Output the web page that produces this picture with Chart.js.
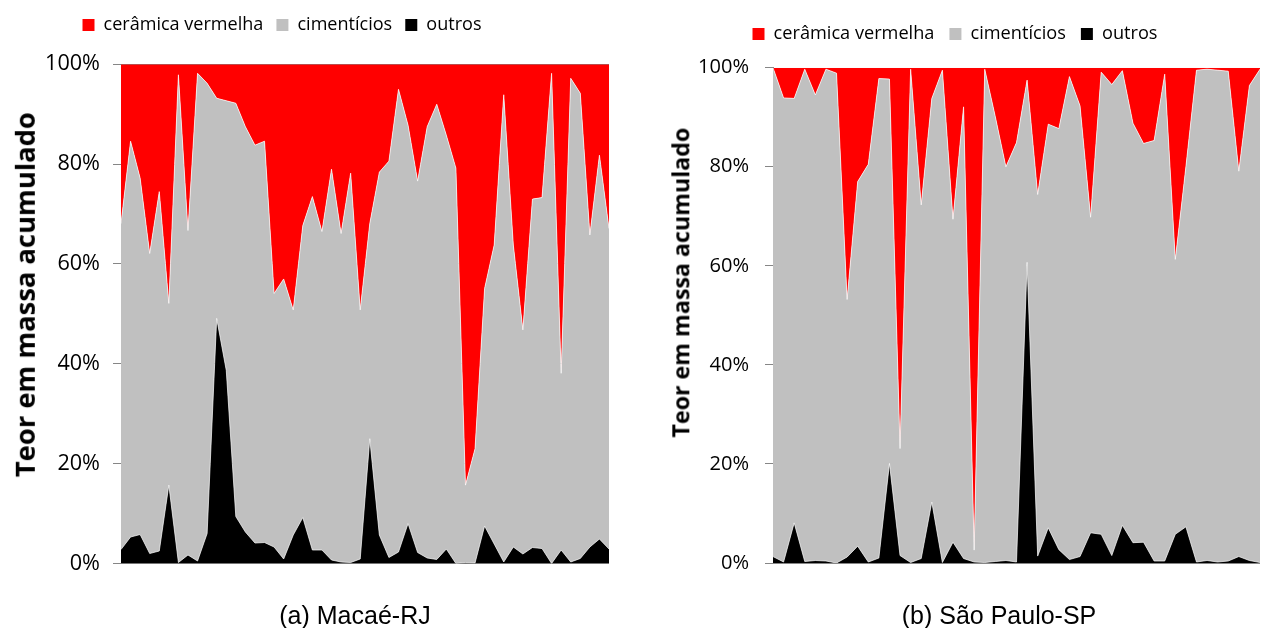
<!DOCTYPE html>
<html><head><meta charset="utf-8">
<script src="https://cdn.jsdelivr.net/npm/chart.js@4.4.0/dist/chart.umd.min.js"></script>
<style>
html,body{margin:0;padding:0;background:#fff;width:1266px;height:628px;overflow:hidden;position:relative;}
.box{position:absolute;top:0;height:628px;}
.cap{position:absolute;font-family:"Liberation Sans",Arial,sans-serif;font-size:25px;line-height:30px;white-space:nowrap;transform:translateX(-50%);color:#000;}
.ytitle{position:absolute;font-family:"Open Sans",sans-serif;font-weight:bold;white-space:nowrap;color:#000;line-height:1;}
</style></head>
<body>
<div class="box" id="boxA"><canvas id="cA"></canvas></div>
<div class="box" id="boxB"><canvas id="cB"></canvas></div>
<div class="cap" style="left:355px;top:600px">(a) Macaé-RJ</div>
<div class="cap" style="left:999px;top:600px">(b) São Paulo-SP</div>
<div class="ytitle" id="ytA">Teor em massa acumulado</div>
<div class="ytitle" id="ytB">Teor em massa acumulado</div>
<script>
// ---- data ----
const seriesNames = ['cerâmica vermelha', 'cimentícios', 'outros'];
const yTicks = [0, 20, 40, 60, 80, 100];

const macaeOutros = [2.8,5.3,5.8,2.0,2.5,15.7,0.2,1.7,0.5,6.0,
  49.1,38.7,9.4,6.3,4.1,4.2,3.3,0.9,5.7,9.2,
  2.7,2.7,0.7,0.3,0.2,0.9,25.0,5.7,1.2,2.3,
  8.0,2.2,1.1,0.8,2.9,0.0,0.2,0.1,7.5,3.9,
  0.3,3.3,1.9,3.2,3.0,0.0,2.7,0.3,1.0,3.3,
  4.9,2.9];
const macaeCimenticios = [65.3,79.3,71.4,60.1,72.0,36.4,97.7,65.0,97.7,90.2,
  44.1,54.0,82.8,81.2,79.7,80.4,50.8,56.1,45.1,58.5,
  70.8,63.8,78.3,65.8,78.0,49.9,43.1,72.7,79.4,92.7,
  79.8,74.4,86.4,91.2,82.9,79.2,15.5,22.9,47.6,59.9,
  93.6,60.5,44.9,69.8,70.3,98.2,35.4,96.9,93.2,62.5,
  76.9,64.2];
const macaeCeramica = [31.9,15.4,22.8,37.9,25.5,47.9,2.1,33.3,1.8,3.8,
  6.8,7.3,7.8,12.5,16.2,15.4,45.9,43.0,49.2,32.3,
  26.5,33.5,21.0,33.9,21.8,49.2,31.9,21.6,19.4,5.0,
  12.2,23.4,12.5,8.0,14.2,20.8,84.3,77.0,44.9,36.2,
  6.1,36.2,53.2,27.0,26.7,1.8,61.9,2.8,5.8,34.2,
  18.2,32.9];

const spOutros = [1.3,0.2,8.1,0.3,0.5,0.4,0.0,1.2,3.4,0.2,
  1.0,20.1,1.5,0.1,0.9,12.3,0.1,4.2,0.9,0.2,
  0.1,0.3,0.5,0.2,60.7,1.4,7.1,2.7,0.7,1.3,
  6.1,5.8,1.5,7.6,4.1,4.2,0.4,0.4,5.8,7.3,
  0.2,0.5,0.2,0.4,1.3,0.5,0.1];
const spCimenticios = [98.7,93.7,85.7,99.4,94.0,99.3,98.9,52.0,73.6,80.3,
  96.8,77.6,21.6,99.6,71.4,81.5,99.4,65.2,91.2,2.4,
  99.6,89.8,79.5,84.7,36.8,73.0,81.5,85.0,97.5,91.0,
  63.7,93.3,95.1,91.8,84.7,80.5,84.9,98.3,55.5,72.7,
  99.3,99.2,99.3,98.9,77.8,95.9,99.6];
const spCeramica = [0.0,6.1,6.2,0.3,5.5,0.3,1.1,46.8,23.0,19.5,
  2.2,2.3,76.9,0.3,27.7,6.2,0.5,30.6,7.9,97.4,
  0.3,9.9,20.0,15.1,2.5,25.6,11.4,12.3,1.8,7.7,
  30.2,0.9,3.4,0.6,11.2,15.3,14.7,1.3,38.7,20.0,
  0.5,0.3,0.5,0.7,20.9,3.6,0.3];

const macaeLabels = macaeOutros.map((_, i) => String(i + 1));
const spLabels = spOutros.map((_, i) => String(i + 1));

// ---- helpers ----
const FAM = "'Open Sans', sans-serif";
const mctx = document.createElement('canvas').getContext('2d');
function fitSize(text, weight, target) {
  mctx.font = weight + ' 100px ' + FAM;
  return 100 * target / mctx.measureText(text).width;
}
function textW(text, weight, size) {
  mctx.font = weight + ' ' + size + 'px ' + FAM;
  return mctx.measureText(text).width;
}

function makeChart(id, boxId, labels, outros, cim, cer, G) {
  const box = document.getElementById(boxId);
  box.style.left = G.cL + 'px';
  box.style.width = G.W + 'px';
  const cv = document.getElementById(id);
  cv.width = G.W; cv.height = 628;
  cv.style.width = G.W + 'px'; cv.style.height = '628px';

  const f = fitSize(seriesNames[0], 'normal', G.legTextW);
  const tw = seriesNames.reduce((a, t) => a + textW(t, 'normal', f), 0);
  const p = Math.max(4, (G.legExtent - 3 * 12 - 3 * f / 2 - tw) / 2);
  const tp = Math.max(0, G.legCenterY - p - f / 2);
  const legBottom = tp + f + p + 10;
  const spacer = Math.max(0, G.chartTop - legBottom - 1);
  const tf = fitSize('100%', 'normal', G.tickTextW);

  return new Chart(cv, {
    type: 'line',
    data: {
      labels: labels,
      datasets: [
        {label: seriesNames[2], data: outros, backgroundColor: '#000000', borderColor: 'rgba(255,255,255,0.85)', borderWidth: 0.8, fill: 'origin', pointRadius: 0, tension: 0},
        {label: seriesNames[1], data: cim, backgroundColor: '#c0c0c0', borderColor: 'rgba(255,255,255,0.85)', borderWidth: 0.8, fill: '-1', pointRadius: 0, tension: 0},
        {label: seriesNames[0], data: cer, backgroundColor: '#ff0000', borderColor: '#ff0000', borderWidth: 0, fill: '-1', pointRadius: 0, tension: 0}
      ]
    },
    options: {
      responsive: false, animation: false, devicePixelRatio: 1,
      layout: {padding: {left: 0, right: 0, top: tp, bottom: G.padBottom}},
      plugins: {
        legend: {display: true, position: 'top', reverse: true,
          labels: {boxWidth: 12, boxHeight: 12, padding: p, color: '#000',
            font: {family: FAM, size: f},
            generateLabels: (chart) => Chart.defaults.plugins.legend.labels.generateLabels(chart).map(l => Object.assign(l, {lineWidth: 0, strokeStyle: l.fillStyle}))}},
        subtitle: {display: true, text: '', weight: 500, padding: {top: spacer, bottom: 0}, font: {size: 1, lineHeight: 1}},
        tooltip: {enabled: false}
      },
      scales: {
        x: {type: 'category', offset: false, ticks: {display: false}, grid: {display: false},
            border: {display: true, color: '#868686', width: 1},
            afterFit: s => { s.height = 0; }},
        y: {stacked: true, min: 0, max: 100,
            afterBuildTicks: s => { s.ticks = yTicks.map(v => ({value: v})); },
            ticks: {padding: G.tickPad, color: '#000', font: {family: FAM, size: tf}, callback: v => v + '%'},
            grid: {color: '#868686', tickLength: 8, drawOnChartArea: G.grid},
            border: {display: true, color: '#868686', width: 1},
            afterFit: s => { s.width = G.yW; }}
      }
    }
  });
}

function placeYTitle(id, cx, cy, target) {
  const el = document.getElementById(id);
  const fs = fitSize(el.textContent, 'bold', target);
  el.style.fontSize = fs + 'px';
  const w = el.offsetWidth, h = el.offsetHeight;
  el.style.left = (cx - w / 2) + 'px';
  el.style.top = (cy - h / 2) + 'px';
  el.style.transform = 'rotate(-90deg)';
}

makeChart('cA', 'boxA', macaeLabels, macaeOutros, macaeCimenticios, macaeCeramica,
  {cL: -45, W: 654, yW: 166, tickPad: 13, padBottom: 64.5, chartTop: 64.3,
   legCenterY: 25, legExtent: 399, legTextW: 160, tickTextW: 55, grid: true});
makeChart('cB', 'boxB', spLabels, spOutros, spCimenticios, spCeramica,
  {cL: 650, W: 610, yW: 123, tickPad: 16, padBottom: 65, chartTop: 67.7,
   legCenterY: 34, legExtent: 405, legTextW: 161, tickTextW: 51, grid: false});

placeYTitle('ytA', 24, 294, 365);
placeYTitle('ytB', 681, 282, 310);
</script>
</body></html>
